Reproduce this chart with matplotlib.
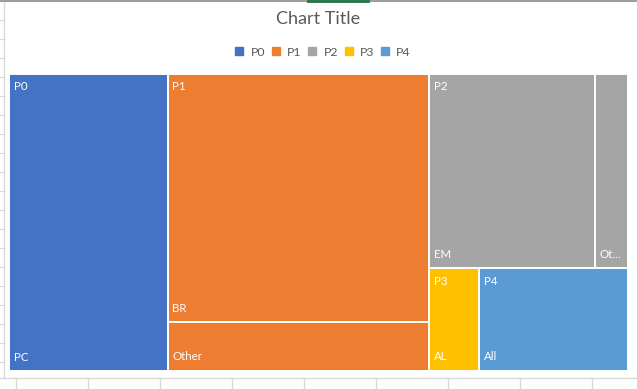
import matplotlib
matplotlib.use("Agg")
import matplotlib.pyplot as plt
from matplotlib.patches import Rectangle
from matplotlib.lines import Line2D

plt.rcParams['font.family'] = ['Lato', 'DejaVu Sans']

# ---- data ----
parents = ["P0", "P1", "P2", "P3", "P4"]
children = [["PC"], ["BR", "Other"], ["EM", "Other"], ["AL"], ["All"]]
values = [[25.6], [35.4, 6.9], [17.5, 3.5], [2.8], [8.3]]
colors = ["#4472C4", "#ED7D31", "#A5A5A5", "#FFC000", "#5B9BD5"]
title = "Chart Title"


# ---- squarified layout (data order kept, as Excel does) ----
def worst(row, w):
    s = sum(row)
    return max(max(w * w * r / (s * s), s * s / (w * w * r)) for r in row)


def squarify(vals, x, y, dx, dy):
    total = sum(vals)
    areas = [v * dx * dy / total for v in vals]
    rects = []
    i = 0
    while i < len(areas):
        short = min(dx, dy)
        row = [areas[i]]
        j = i + 1
        while j < len(areas) and worst(row + [areas[j]], short) <= worst(row, short):
            row.append(areas[j])
            j += 1
        s = sum(row)
        if dx >= dy:  # column on the left
            w = s / dy
            yy = y
            for a in row:
                h = a / w
                rects.append((x, yy, w, h))
                yy += h
            x += w
            dx -= w
        else:  # row on the top
            h = s / dx
            xx = x
            for a in row:
                w = a / h
                rects.append((xx, y, w, h))
                xx += w
            y += h
            dy -= h
        i = j
    return rects


FW, FH = 637, 389
fig = plt.figure(figsize=(FW / 100, FH / 100), dpi=100)

# background (spreadsheet behind the chart)
bg = fig.add_axes([0, 0, 1, 1])
bg.set_xlim(0, FW)
bg.set_ylim(FH, 0)
bg.axis("off")
grid_c = "#D9D9D9"
for gy in range(20, 380, 19):
    bg.plot([0, 4], [gy, gy], color=grid_c, lw=0.8)
bg.plot([0, FW], [378, 378], color=grid_c, lw=1.0)
for gx in [16, 88, 160, 232, 304, 376, 448, 520, 592]:
    bg.plot([gx, gx], [378, FH], color=grid_c, lw=1.0)
bg.plot([4, 4], [2, 378], color=grid_c, lw=1.0)
bg.plot([0, FW], [0.8, 0.8], color="#9E9E9E", lw=1.5)
bg.plot([308, 368], [0.8, 0.8], color="#217346", lw=2)

# treemap axes (plot area)
L, T, R, B = 9.3, 73.5, 627.8, 370.5
W, H = R - L, B - T
ax = fig.add_axes([L / FW, 1 - B / FH, W / FW, H / FH])
ax.set_xlim(0, W)
ax.set_ylim(H, 0)
ax.axis("off")

parent_tot = [sum(v) for v in values]
prects = squarify(parent_tot, 0, 0, W, H)
fs = 8.3
renderer = fig.canvas.get_renderer()


def fit_label(txt, maxw):
    t = ax.text(0, 0, txt, fontsize=fs)
    wpx = t.get_window_extent(renderer).width
    t.remove()
    if wpx <= maxw:
        return txt
    for n in range(len(txt) - 1, 0, -1):
        cand = txt[:n] + "..."
        t = ax.text(0, 0, cand, fontsize=fs)
        wpx = t.get_window_extent(renderer).width
        t.remove()
        if wpx <= maxw:
            return cand
    return ""


for p, (px, py, pw, ph), kids, kv, col in zip(parents, prects, children, values, colors):
    crects = squarify(kv, px, py, pw, ph)
    for name, (cx, cy, cw, ch) in zip(kids, crects):
        ax.add_patch(Rectangle((cx, cy), cw, ch, facecolor=col,
                               edgecolor="white", lw=1.4))
        lab = fit_label(name, cw - 8)
        ax.text(cx + 4.5, cy + ch - 13.5, lab, color="white", fontsize=fs,
                va="center", ha="left")
    ax.text(px + 4.5, py + 13.5, p, color="white", fontsize=fs,
            va="center", ha="left")

fig.text(0.5, 1 - 19 / FH, title, ha="center", va="center",
         fontsize=13, color="#595959")

handles = [Line2D([], [], marker="s", ls="none", markersize=5.5,
                  markerfacecolor=c, markeredgecolor=c) for c in colors]
fig.legend(handles, parents, loc="center", ncol=5,
           bbox_to_anchor=(323 / FW, 1 - 52 / FH), frameon=False,
           fontsize=8.8, labelcolor="#595959", handlelength=0.7,
           handletextpad=0.55, columnspacing=0.55)

fig.savefig("out.png", dpi=100, facecolor="white")
